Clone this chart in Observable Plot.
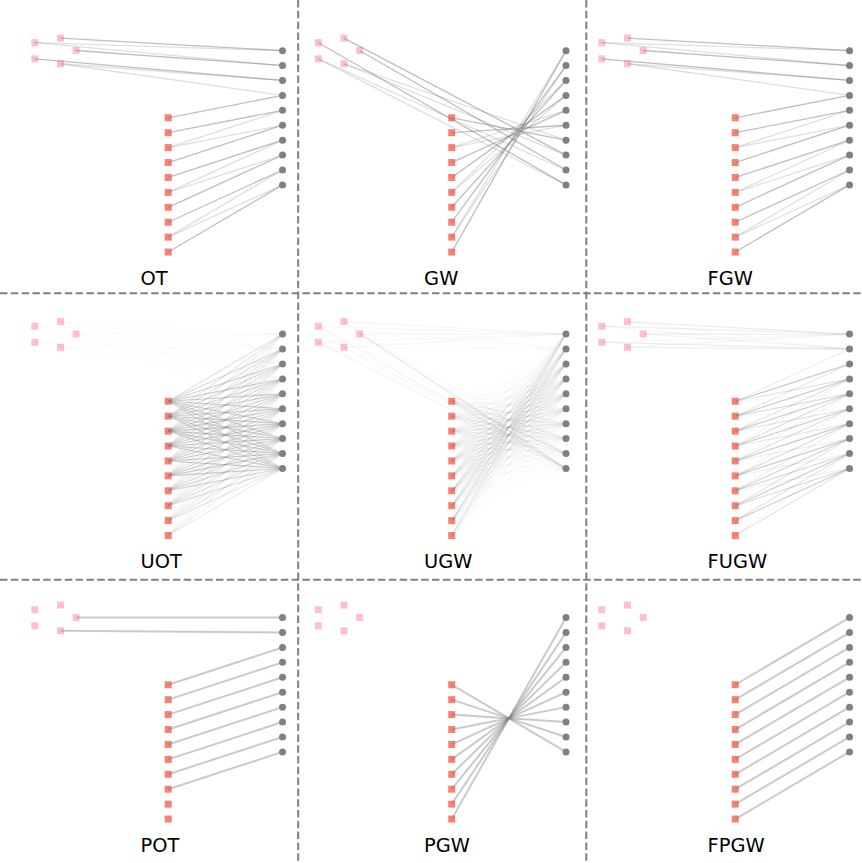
<!DOCTYPE html>
<html>
<head>
<meta charset="utf-8">
<script src="https://cdn.jsdelivr.net/npm/d3@7"></script>
<script src="https://cdn.jsdelivr.net/npm/@observablehq/plot@0.6"></script>
<style>
  body { margin: 0; background: #fff; }
  #chart svg { display: block; }
</style>
</head>
<body>
<div id="chart"></div>
<script>
// Source samples: five outliers, then ten inliers on a vertical line
const outlierX = [-8.94, -7.22, -6.17, -8.94, -7.22];
const outlierY = [-5.03, -5.34, -4.51, -3.95, -3.62];
const inlierX = [0, 0, 0, 0, 0, 0, 0, 0, 0, 0];
const inlierY = [0, 1, 2, 3, 4, 5, 6, 7, 8, 9];
// Target samples
const targetX = [7.66, 7.66, 7.66, 7.66, 7.66, 7.66, 7.66, 7.66, 7.66, 7.66];
const targetY = [-4.5, -3.5, -2.5, -1.5, -0.5, 0.5, 1.5, 2.5, 3.5, 4.5];

// Method names, laid out row by row
const methods = [
  ["OT", "GW", "FGW"],
  ["UOT", "UGW", "FUGW"],
  ["POT", "PGW", "FPGW"]
];

// Sparse transport plans: [source index, target index, relative mass]
// source indices 0-4 are the outliers, 5-14 the inliers
const planOT = [[1,0,1],[0,0,.5],[0,1,.5],[2,1,1],[3,2,1],[4,2,.5],[4,3,.5],[5,3,1],[6,4,1],[7,4,.5],[7,5,.5],[8,5,1],[9,6,1],[10,6,.5],[10,7,.5],[11,7,1],[12,8,1],[13,8,.5],[13,9,.5],[14,9,1]];
const planGW = [[14,0,1],[13,0,.5],[13,1,.5],[12,1,1],[11,2,1],[10,2,.5],[10,3,.5],[9,3,1],[8,4,1],[7,4,.5],[7,5,.5],[6,5,1],[5,6,1],[4,6,.5],[4,7,.5],[1,7,1],[2,8,1],[3,8,.5],[3,9,.5],[0,9,1]];
const planFGW = [[1,0,1],[0,0,.5],[0,1,.5],[2,1,1],[3,2,1],[4,2,.5],[4,3,.5],[5,3,1],[6,4,1],[7,4,.5],[7,5,.5],[8,5,1],[9,6,1],[10,6,.5],[10,7,.5],[11,7,1],[12,8,1],[13,8,.5],[13,9,.5],[14,9,1]];
const planPOT = [[2,0,1],[4,1,1],[5,2,1],[6,3,1],[7,4,1],[8,5,1],[9,6,1],[10,7,1],[11,8,1],[12,9,1]];
const planPGW = [[5,9,1],[6,8,1],[7,7,1],[8,6,1],[9,5,1],[10,4,1],[11,3,1],[12,2,1],[13,1,1],[14,0,1]];
const planFPGW = [[5,0,1],[6,1,1],[7,2,1],[8,3,1],[9,4,1],[10,5,1],[11,6,1],[12,7,1],[13,8,1],[14,9,1]];

// Dense plans (rows: 15 sources, columns: 10 targets), relative mass
const planUOT = [
  [.06,.05,.04,.03,.02,.01,.01,0,0,0],
  [.07,.06,.05,.03,.02,.01,.01,0,0,0],
  [.08,.07,.05,.04,.03,.02,.01,.01,0,0],
  [.06,.05,.05,.04,.03,.02,.01,.01,0,0],
  [.06,.06,.05,.04,.03,.02,.01,.01,0,0],
  [.6,.75,.85,.95,1,1,.95,.85,.75,.6],
  [.45,.6,.75,.85,.95,1,1,.95,.85,.75],
  [.35,.45,.6,.75,.85,.95,1,1,.95,.85],
  [.25,.35,.45,.6,.75,.85,.95,1,1,.95],
  [.15,.25,.35,.45,.6,.75,.85,.95,1,1],
  [.1,.15,.25,.35,.45,.6,.75,.85,.95,.95],
  [.05,.08,.12,.2,.3,.4,.55,.7,.8,.85],
  [.03,.05,.08,.12,.2,.3,.4,.5,.6,.7],
  [.02,.03,.05,.08,.12,.18,.25,.35,.45,.55],
  [.01,.02,.03,.05,.08,.12,.18,.25,.32,.4]
];
const planUGW = [
  [.3,.12,0,0,0,0,0,0,.12,.45],
  [.35,.12,0,0,0,0,0,0,.12,.35],
  [.35,.12,0,0,0,0,0,0,.2,.8],
  [.3,.18,0,0,0,0,0,0,.12,.45],
  [.3,.18,0,0,0,0,0,0,.12,.25],
  [.1,.1,.15,.2,.3,.45,.6,.8,.9,.7],
  [.1,.15,.2,.3,.45,.6,.8,.9,.8,.5],
  [.15,.2,.3,.45,.6,.8,.9,.8,.6,.4],
  [.2,.3,.45,.6,.8,.9,.8,.6,.45,.3],
  [.3,.45,.6,.8,.9,.8,.6,.45,.3,.2],
  [.45,.6,.8,.9,.8,.6,.45,.3,.2,.15],
  [.6,.8,.9,.8,.6,.45,.3,.2,.15,.1],
  [.8,.9,.8,.6,.45,.3,.2,.15,.1,.1],
  [.9,.8,.6,.45,.3,.2,.15,.1,.1,.05],
  [.7,.6,.45,.3,.2,.15,.1,.1,.05,.05]
];
const planFUGW = [
  [.3,.15,0,0,0,0,0,0,0,0],
  [.35,.1,0,0,0,0,0,0,0,0],
  [.3,.2,0,0,0,0,0,0,0,0],
  [.15,.3,0,0,0,0,0,0,0,0],
  [.2,.3,0,0,0,0,0,0,0,0],
  [0,.3,1,.5,.15,0,0,0,0,0],
  [0,0,.4,.9,.6,.15,0,0,0,0],
  [0,0,0,.5,.9,.5,.1,0,0,0],
  [0,0,0,.2,.6,.9,.4,0,0,0],
  [0,0,0,0,.2,.6,.9,.3,0,0],
  [0,0,0,0,0,.2,.6,.9,.3,0],
  [0,0,0,0,0,0,.3,.8,.7,.2],
  [0,0,0,0,0,0,0,.4,.8,.6],
  [0,0,0,0,0,0,0,0,.5,.8],
  [0,0,0,0,0,0,0,0,.2,.5]
];

const plans = {
  OT: planOT, GW: planGW, FGW: planFGW,
  UOT: planUOT, UGW: planUGW, FUGW: planFUGW,
  POT: planPOT, PGW: planPGW, FPGW: planFPGW
};

// Line width and peak opacity of the plan links for each method
const linkStyle = {
  OT: [1.3, .5], GW: [1.3, .5], FGW: [1.3, .5],
  UOT: [1.1, .4], UGW: [1.1, .2], FUGW: [1.2, .45],
  POT: [2, .42], PGW: [2, .42], FPGW: [2, .42]
};

const step = 19;                 // spacing between panels, in data units
const xDomain = [-11.24, 46.53];
const yDomain = [-7.86, 49.98];

const sourceX = outlierX.concat(inlierX);
const sourceY = outlierY.concat(inlierY);

// Dense 15×10 matrices become [i, j, w] triples; sparse lists pass through
function asTriples(plan) {
  if (plan.length === 15 && plan[0].length === 10) {
    const out = [];
    plan.forEach((row, i) => row.forEach((w, j) => { if (w > 0) out.push([i, j, w]); }));
    return out;
  }
  return plan;
}

const outliers = [], inliers = [], targets = [], titles = [];
const linkMarks = [];

methods.forEach((row, r) => row.forEach((name, c) => {
  const ox = c * step, oy = r * step;
  outlierX.forEach((x, i) => outliers.push({x: x + ox, y: outlierY[i] + oy}));
  inlierX.forEach((x, i) => inliers.push({x: x + ox, y: inlierY[i] + oy}));
  targetX.forEach((x, j) => targets.push({x: x + ox, y: targetY[j] + oy}));
  titles.push({x: ox - 1.85, y: oy + 11.2, text: name});
  const [sw, peak] = linkStyle[name];
  const links = asTriples(plans[name]).map(([i, j, w]) => ({
    x1: sourceX[i] + ox, y1: sourceY[i] + oy,
    x2: targetX[j] + ox, y2: targetY[j] + oy,
    op: peak * w
  }));
  linkMarks.push(Plot.link(links, {
    x1: "x1", y1: "y1", x2: "x2", y2: "y2",
    stroke: "#808080", strokeOpacity: "op", strokeWidth: sw
  }));
}));

const dashed = {stroke: "#808080", strokeWidth: 2, strokeDasharray: "7.5,3.3"};

const chart = Plot.plot({
  width: 862,
  height: 863,
  margin: 0,
  x: {domain: xDomain, range: [0, 862], axis: null},
  y: {domain: yDomain, range: [0, 863], axis: null},
  opacity: {type: "identity"},
  marks: [
    Plot.dot(outliers, {x: "x", y: "y", symbol: "square", r: 3.95, fill: "pink"}),
    Plot.dot(inliers, {x: "x", y: "y", symbol: "square", r: 3.95, fill: "salmon"}),
    ...linkMarks,
    Plot.dot(targets, {x: "x", y: "y", r: 3.5, fill: "#808080"}),
    Plot.text(titles, {
      x: "x", y: "y", text: "text", textAnchor: "start", lineAnchor: "bottom",
      fontSize: 19.4, fontFamily: "DejaVu Sans", fill: "black"
    }),
    Plot.ruleX([8.71, 28.02], {y1: () => yDomain[0], y2: () => yDomain[1], ...dashed}),
    Plot.ruleY([11.76, 30.96], {x1: () => xDomain[0], x2: () => xDomain[1], ...dashed})
  ]
});

document.getElementById("chart").appendChild(chart);
</script>
</body>
</html>
